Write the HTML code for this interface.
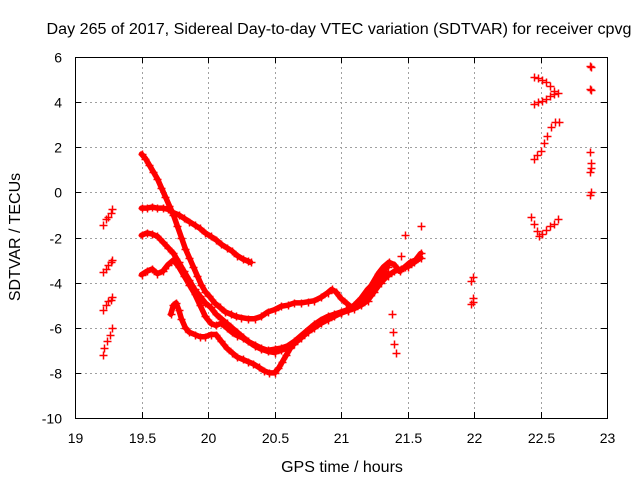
<!DOCTYPE html>
<html><head><meta charset="utf-8"><style>
body{margin:0;background:#fff}
svg{display:block;font-family:"Liberation Sans",sans-serif}
</style></head><body>
<svg id="chart" width="640" height="480" viewBox="0 0 640 480">
<rect width="640" height="480" fill="#fff"/>
<text x="339" y="34" font-size="15.5" text-anchor="middle" textLength="585" lengthAdjust="spacingAndGlyphs">Day 265 of 2017, Sidereal Day-to-day VTEC variation (SDTVAR) for receiver cpvg</text>
<text x="342" y="472" font-size="16" text-anchor="middle">GPS time / hours</text>
<text transform="translate(20,237) rotate(-90)" font-size="16" text-anchor="middle">SDTVAR / TECUs</text>
<g id="grid"></g>
<g id="ticks"></g>
<g id="lines"></g>
<g id="marks"></g>
<rect x="75.5" y="57.5" width="532" height="361" fill="none" stroke="#000"/>
</svg>
<script>
const xTicks=[19,19.5,20,20.5,21,21.5,22,22.5,23];
const xTickLabels=["19","19.5","20","20.5","21","21.5","22","22.5","23"];
const yTicks=[6,4,2,0,-2,-4,-6,-8,-10];
const yTickLabels=["6","4","2","0","-2","-4","-6","-8","-10"];
const track1=[[19.5,1.7],[19.53,1.5],[19.56,1.2],[19.59,0.9],[19.62,0.6],[19.65,0.2],[19.68,-0.2],[19.71,-0.6],[19.74,-1.0],[19.77,-1.5],[19.8,-2.0],[19.83,-2.5],[19.86,-2.9],[19.89,-3.3],[19.92,-3.7],[19.95,-4.1],[19.98,-4.4],[20.01,-4.6],[20.05,-4.9],[20.09,-5.1],[20.13,-5.3],[20.17,-5.4],[20.21,-5.5],[20.25,-5.55],[20.3,-5.6],[20.35,-5.6],[20.4,-5.5],[20.45,-5.3],[20.5,-5.2],[20.55,-5.05],[20.6,-5.0],[20.65,-4.9],[20.7,-4.9],[20.75,-4.85],[20.8,-4.8],[20.85,-4.65],[20.9,-4.45],[20.93,-4.3],[20.96,-4.4],[21.0,-4.7],[21.04,-4.9],[21.08,-5.1],[21.12,-5.0],[21.16,-4.8],[21.2,-4.4],[21.24,-4.0],[21.28,-3.6],[21.32,-3.3],[21.36,-3.1],[21.4,-3.2],[21.44,-3.5],[21.48,-3.3],[21.52,-3.1],[21.56,-3.0],[21.6,-2.7]];
const track2=[[19.5,-0.7],[19.54,-0.7],[19.58,-0.65],[19.62,-0.7],[19.66,-0.7],[19.7,-0.75],[19.74,-0.9],[19.78,-1.0],[19.82,-1.15],[19.86,-1.3],[19.9,-1.45],[19.94,-1.6],[19.98,-1.8],[20.02,-1.95],[20.06,-2.1],[20.1,-2.3],[20.14,-2.45],[20.18,-2.6],[20.22,-2.8],[20.26,-2.95],[20.3,-3.05],[20.32,-3.1]];
const track3=[[19.5,-1.9],[19.54,-1.8],[19.58,-1.85],[19.62,-1.95],[19.66,-2.2],[19.7,-2.45],[19.74,-2.7],[19.78,-3.1],[19.82,-3.5],[19.86,-3.9],[19.9,-4.3],[19.94,-4.6],[19.98,-4.9],[20.02,-5.1],[20.06,-5.4],[20.1,-5.6],[20.14,-5.8],[20.18,-6.0],[20.22,-6.2],[20.26,-6.4],[20.3,-6.6],[20.35,-6.8],[20.4,-6.95],[20.45,-7.05],[20.5,-7.1],[20.55,-7.0],[20.6,-6.9],[20.65,-6.7],[20.7,-6.45],[20.75,-6.2],[20.8,-6.0],[20.85,-5.8],[20.9,-5.65],[20.95,-5.5],[21.0,-5.35],[21.05,-5.25],[21.1,-5.15],[21.15,-5.0],[21.2,-4.8],[21.25,-4.4],[21.3,-4.0],[21.35,-3.7],[21.4,-3.5],[21.45,-3.4],[21.5,-3.3],[21.55,-3.1],[21.6,-2.9]];
const track4=[[19.5,-3.65],[19.54,-3.5],[19.58,-3.4],[19.62,-3.6],[19.66,-3.5],[19.7,-3.2],[19.74,-3.0],[19.78,-3.3],[19.82,-3.7],[19.86,-4.1],[19.9,-4.5],[19.94,-5.0],[19.98,-5.5],[20.02,-5.8],[20.06,-5.9],[20.1,-5.8],[20.14,-6.0],[20.18,-6.2],[20.22,-6.35],[20.26,-6.45],[20.3,-6.6],[20.35,-6.75],[20.4,-6.9],[20.45,-7.0],[20.5,-6.95],[20.55,-6.9],[20.6,-6.8],[20.65,-6.6],[20.7,-6.35],[20.75,-6.1],[20.8,-5.85],[20.85,-5.65],[20.9,-5.5],[20.95,-5.4],[21.0,-5.3],[21.05,-5.2],[21.1,-5.1],[21.15,-4.8],[21.2,-4.5],[21.25,-4.2],[21.3,-3.9],[21.35,-3.6]];
const track5=[[19.72,-5.4],[19.74,-5.0],[19.76,-4.9],[19.78,-5.2],[19.8,-5.6],[19.83,-6.0],[19.86,-6.2],[19.9,-6.3],[19.94,-6.4],[19.98,-6.4],[20.02,-6.3],[20.06,-6.3],[20.1,-6.6],[20.14,-6.9],[20.18,-7.1],[20.22,-7.3],[20.26,-7.4],[20.3,-7.5],[20.34,-7.6],[20.38,-7.75],[20.42,-7.9],[20.46,-8.0],[20.5,-8.0],[20.53,-7.8],[20.56,-7.5],[20.59,-7.2],[20.62,-6.9],[20.66,-6.6],[20.7,-6.4],[20.75,-6.1],[20.8,-5.9],[20.85,-5.7],[20.9,-5.55],[20.95,-5.45],[21.0,-5.35],[21.05,-5.2],[21.1,-5.0],[21.15,-4.7],[21.2,-4.3],[21.25,-4.0],[21.3,-3.6],[21.35,-3.3]];
const scatter=[[19.21,-1.45],[19.23,-1.2],[19.25,-1.1],[19.27,-0.9],[19.28,-0.75],[19.21,-3.55],[19.23,-3.4],[19.25,-3.2],[19.27,-3.1],[19.28,-3.0],[19.21,-5.2],[19.23,-5.0],[19.25,-4.8],[19.27,-4.75],[19.28,-4.65],[19.21,-7.2],[19.22,-6.9],[19.24,-6.6],[19.26,-6.3],[19.28,-6.0],[21.38,-5.4],[21.39,-6.2],[21.4,-6.7],[21.41,-7.1],[21.48,-1.9],[21.45,-2.8],[21.6,-1.5],[21.99,-3.75],[21.98,-3.95],[21.99,-4.7],[21.99,-4.85],[21.98,-4.95],[22.45,5.1],[22.48,5.05],[22.51,5.0],[22.54,4.9],[22.57,4.7],[22.6,4.5],[22.45,3.9],[22.48,4.0],[22.51,4.05],[22.54,4.15],[22.57,4.25],[22.6,4.35],[22.63,4.4],[22.45,1.5],[22.47,1.65],[22.5,1.85],[22.53,2.2],[22.55,2.5],[22.58,2.9],[22.61,3.1],[22.64,3.1],[22.43,-1.1],[22.45,-1.4],[22.47,-1.7],[22.49,-1.95],[22.51,-1.85],[22.54,-1.65],[22.57,-1.5],[22.6,-1.4],[22.63,-1.2],[22.87,5.6],[22.88,5.55],[22.87,4.6],[22.88,4.55],[22.87,1.8],[22.88,1.3],[22.87,0.9],[22.88,1.1],[22.87,-0.1],[22.88,0.0]];
const X=h=>75+133*(h-19);
const Y=v=>57+(361/16)*(6-v);
const NS="http://www.w3.org/2000/svg";
const grid=document.getElementById('grid'),ticks=document.getElementById('ticks'),marks=document.getElementById('marks'),lines=document.getElementById('lines');
function mk(tag,parent,attrs){const e=document.createElementNS(NS,tag);for(const k in attrs)e.setAttribute(k,attrs[k]);parent.appendChild(e);return e;}
xTicks.forEach((t,i)=>{const x=Math.round(X(t))+0.5;
 if(i>0&&i<xTicks.length-1){const g=mk('line',grid,{x1:x,x2:x,y1:57,y2:418,stroke:'#a0a0a0','stroke-dasharray':'2,3'});
 }
 mk('line',ticks,{x1:x,x2:x,y1:418,y2:412,stroke:'#000'});mk('line',ticks,{x1:x,x2:x,y1:57,y2:63,stroke:'#000'});
 const l=mk('text',ticks,{x:x,y:443,'font-size':14,'text-anchor':'middle'});l.textContent=xTickLabels[i];
 });
yTicks.forEach((t,i)=>{const y=Math.round(Y(t))+0.5;
 if(i>0&&i<yTicks.length-1){const g=mk('line',grid,{x1:75,x2:607,y1:y,y2:y,stroke:'#a0a0a0','stroke-dasharray':'2,3'});
 }
 mk('line',ticks,{x1:75,x2:81,y1:y,y2:y,stroke:'#000'});mk('line',ticks,{x1:607,x2:601,y1:y,y2:y,stroke:'#000'});
 const l=mk('text',ticks,{x:62,y:y+5,'font-size':14,'text-anchor':'end'});l.textContent=yTickLabels[i];
 });
[track1,track2,track3,track4,track5].forEach(s=>{
 const pl=mk('polyline',lines,{points:s.map(p=>X(p[0])+','+Y(p[1])).join(' '),fill:'none',stroke:'#f00','stroke-width':5.5,'stroke-linejoin':'round','stroke-linecap':'round'});
 
 
});
[track1,track2,track3,track4,track5,scatter].forEach(s=>s.forEach(p=>{
 const x=Math.round(X(p[0]))+0.5,y=Math.round(Y(p[1]))+0.5;
 const m=mk('path',marks,{d:`M${x-4},${y}H${x+4}M${x},${y-4}V${y+4}`,stroke:'#f00','stroke-width':1.5,fill:'none'});
 
 
}));
</script>
</body></html>
